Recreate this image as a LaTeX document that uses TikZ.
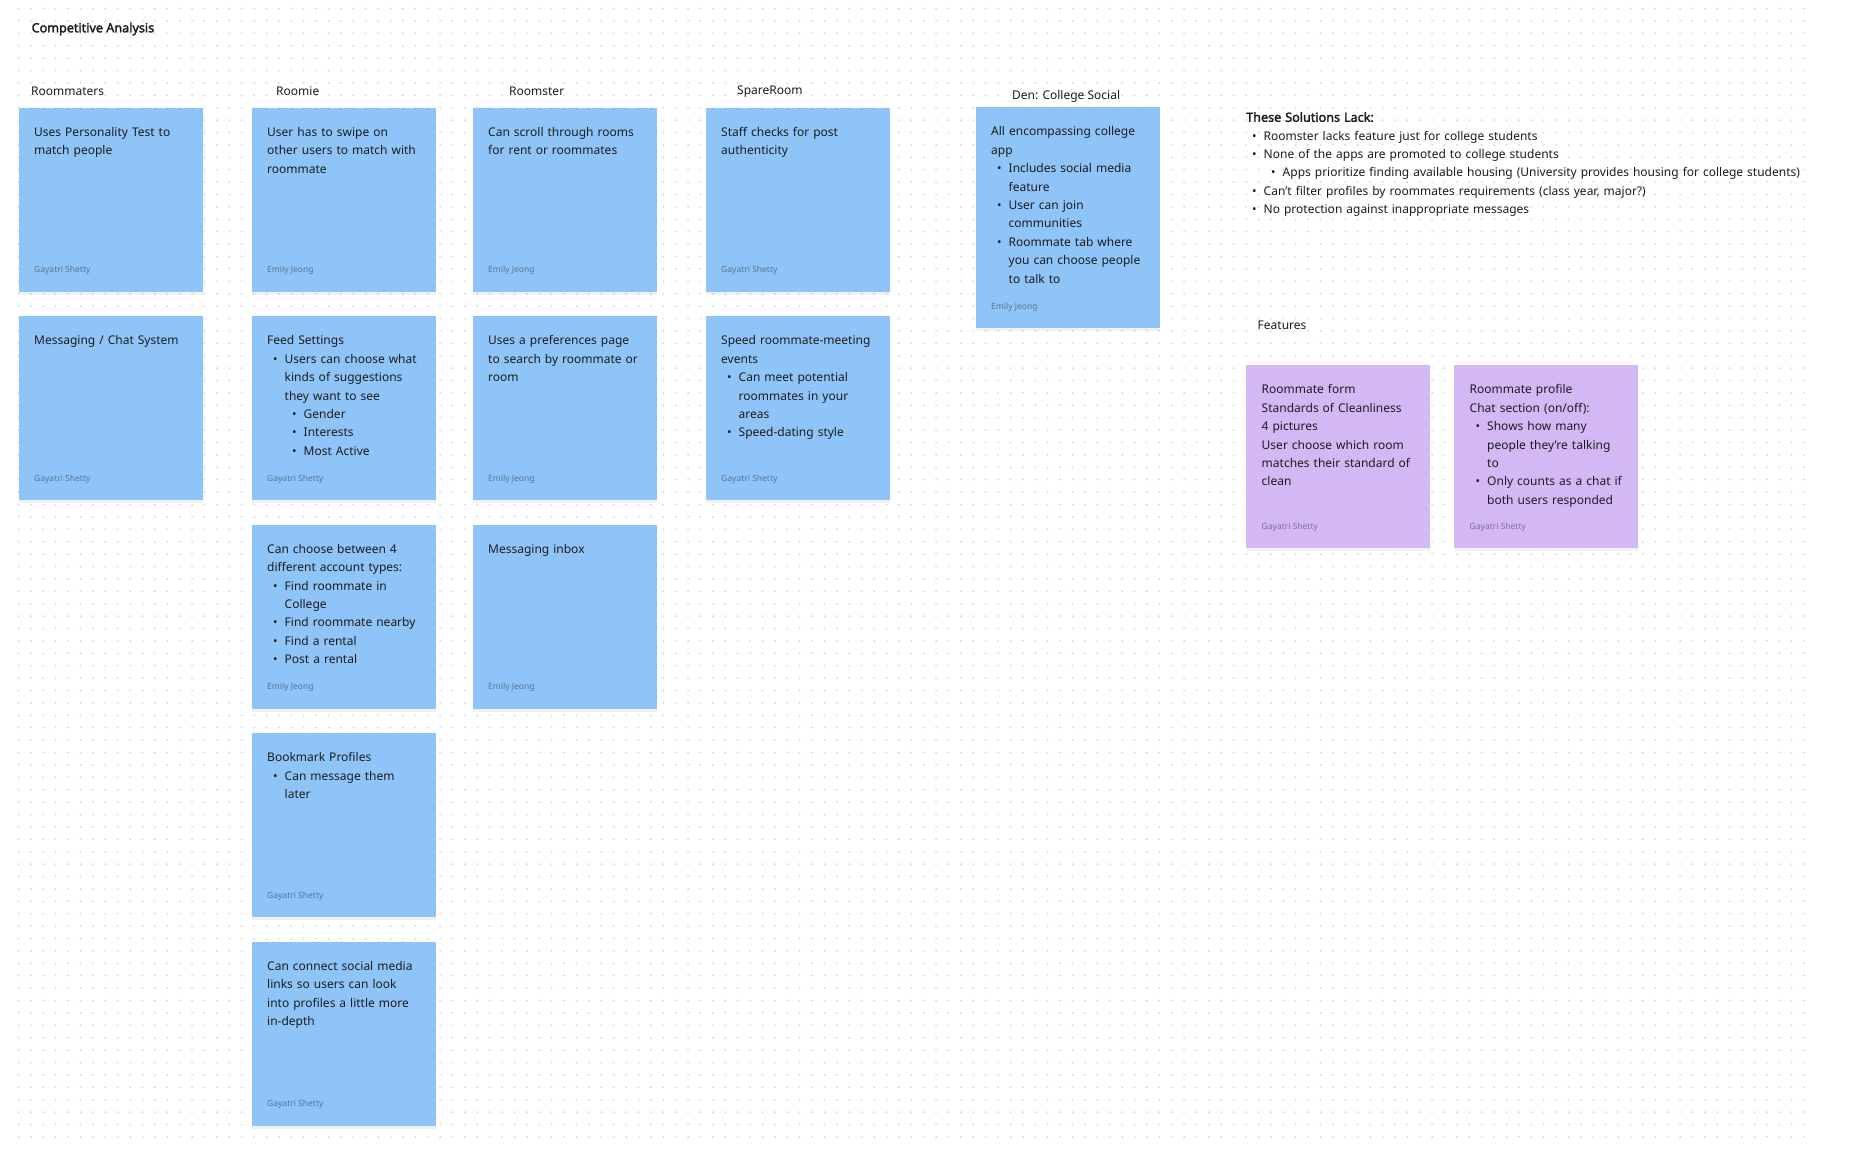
\documentclass[tikz,border=0pt]{standalone}
\usepackage{fontspec}
\setmainfont{Noto Sans}[AutoFakeBold=2.2]
\usepackage{xcolor}
\usetikzlibrary{positioning,shadows}
\setlength\parindent{0pt}
\definecolor{noteblue}{RGB}{143,196,248}
\definecolor{notepurple}{RGB}{212,184,246}
\definecolor{ink}{RGB}{28,28,28}
\definecolor{griddot}{RGB}{214,214,214}
% bullet line, optional arg = left indent
\newcommand\bitem[2][17.5pt]{\par{\leftskip=#1\relax\noindent\llap{\textbullet\hspace{7pt}}#2\par}}

\begin{document}
\begin{tikzpicture}[x=1pt,y=-1pt,
  note/.style={anchor=north west, inner sep=0pt, minimum width=184pt, minimum height=184pt,
    fill=noteblue, drop shadow={shadow xshift=0pt, shadow yshift=-3pt, opacity=.1}},
  notetxt/.style={inner sep=0pt, text width=172pt, align=left, text=ink,
    font=\fontsize{12}{18.4}\selectfont},
  author/.style={inner sep=0pt, text=black, text opacity=.4, font=\fontsize{8.5}{10}\selectfont},
  header/.style={anchor=west, inner sep=0pt, text=ink, font=\fontsize{12}{14}\selectfont}]
  \useasboundingbox[fill=white] (0,0) rectangle (1852,1168);
  % dotted canvas, 12.4px pitch
  \def\gp{12.4}
  \foreach \gy in {0,...,91}
    \draw[griddot, line width=2pt, line cap=round, dash pattern=on 0pt off \gp pt]
      (18.5,{8.5+\gp*\gy}) -- (1808,{8.5+\gp*\gy});

  % headings
  \node[header, font=\fontsize{12.6}{14}\selectfont\bfseries] (title) at (31.5,29) {Competitive Analysis};
  \node[header] (hdrRmt) at (31,91) {Roommaters};
  \node[header] (hdrRmi) at (276,91) {Roomie};
  \node[header] (hdrRms) at (509,91) {Roomster};
  \node[header] (hdrSpr) at (737,91.5) {SpareRoom};
  \node[header] (hdrDen) at (1012,96.5) {Den: College Social};
  \node[header] (hdrFeat) at (1257.5,325) {Features};

  % Roommaters
  \node[note] (rmt1) at (18.5,107.5) {};
  \node[notetxt, below right=19.5pt and 15.5pt of rmt1.north west] {Uses Personality Test to\\match people};
  \node[author, above right=17pt and 15.5pt of rmt1.south west] {Gayatri Shetty};
  \node[note] (rmt2) at (18.5,316) {};
  \node[notetxt, below right=19.5pt and 15.5pt of rmt2.north west] {Messaging / Chat System};
  \node[author, above right=17pt and 15.5pt of rmt2.south west] {Gayatri Shetty};

  % Roomie
  \node[note] (rmi1) at (251.5,107.5) {};
  \node[notetxt, below right=19.5pt and 15.5pt of rmi1.north west] {User has to swipe on\\other users to match with\\roommate};
  \node[author, above right=17pt and 15.5pt of rmi1.south west] {Emily Jeong};
  \node[note] (rmi2) at (251.5,316) {};
  \node[notetxt, below right=19.5pt and 15.5pt of rmi2.north west] {Feed Settings
    \bitem{Users can choose what\newline kinds of suggestions\newline they want to see}
    \bitem[36.5pt]{Gender}\bitem[36.5pt]{Interests}\bitem[36.5pt]{Most Active}};
  \node[author, above right=17pt and 15.5pt of rmi2.south west] {Gayatri Shetty};
  \node[note] (rmi3) at (251.5,524.5) {};
  \node[notetxt, below right=19.5pt and 15.5pt of rmi3.north west] {Can choose between 4\\different account types:
    \bitem{Find roommate in\newline College}\bitem{Find roommate nearby}
    \bitem{Find a rental}\bitem{Post a rental}};
  \node[author, above right=17pt and 15.5pt of rmi3.south west] {Emily Jeong};
  \node[note] (rmi4) at (251.5,733) {};
  \node[notetxt, below right=19.5pt and 15.5pt of rmi4.north west] {Bookmark Profiles
    \bitem{Can message them\newline later}};
  \node[author, above right=17pt and 15.5pt of rmi4.south west] {Gayatri Shetty};
  \node[note] (rmi5) at (251.5,941.5) {};
  \node[notetxt, below right=19.5pt and 15.5pt of rmi5.north west] {Can connect social media\\links so users can look\\into profiles a little more\\in-depth};
  \node[author, above right=17pt and 15.5pt of rmi5.south west] {Gayatri Shetty};

  % Roomster
  \node[note] (rms1) at (472.5,107.5) {};
  \node[notetxt, below right=19.5pt and 15.5pt of rms1.north west] {Can scroll through rooms\\for rent or roommates};
  \node[author, above right=17pt and 15.5pt of rms1.south west] {Emily Jeong};
  \node[note] (rms2) at (472.5,316) {};
  \node[notetxt, below right=19.5pt and 15.5pt of rms2.north west] {Uses a preferences page\\to search by roommate or\\room};
  \node[author, above right=17pt and 15.5pt of rms2.south west] {Emily Jeong};
  \node[note] (rms3) at (472.5,524.5) {};
  \node[notetxt, below right=19.5pt and 15.5pt of rms3.north west] {Messaging inbox};
  \node[author, above right=17pt and 15.5pt of rms3.south west] {Emily Jeong};

  % SpareRoom
  \node[note] (spr1) at (705.5,107.5) {};
  \node[notetxt, below right=19.5pt and 15.5pt of spr1.north west] {Staff checks for post\\authenticity};
  \node[author, above right=17pt and 15.5pt of spr1.south west] {Gayatri Shetty};
  \node[note] (spr2) at (705.5,316) {};
  \node[notetxt, below right=19.5pt and 15.5pt of spr2.north west] {Speed roommate-meeting\\events
    \bitem{Can meet potential\newline roommates in your\newline areas}\bitem{Speed-dating style}};
  \node[author, above right=17pt and 15.5pt of spr2.south west] {Gayatri Shetty};

  % Den: College Social
  \node[note, minimum height=221pt] (den1) at (975.5,107) {};
  \node[notetxt, below right=19.5pt and 15.5pt of den1.north west] {All encompassing college\\app
    \bitem{Includes social media\newline feature}\bitem{User can join\newline communities}
    \bitem{Roommate tab where\newline you can choose people\newline to talk to}};
  \node[author, above right=17pt and 15.5pt of den1.south west] {Emily Jeong};

  % what is missing
  \node[notetxt, anchor=north west, text width=600pt] (lack) at (1246,112) {{\fontsize{12.6}{18.4}\selectfont\textbf{These Solutions Lack:}}
    \bitem{Roomster lacks feature just for college students}
    \bitem{None of the apps are promoted to college students}
    \bitem[36.5pt]{Apps prioritize finding available housing (University provides housing for college students)}
    \bitem{Can't filter profiles by roommates requirements (class year, major?)}
    \bitem{No protection against inappropriate messages}};

  % Features
  \node[note, fill=notepurple, minimum height=183pt] (feat1) at (1246,365) {};
  \node[notetxt, below right=19.5pt and 15.5pt of feat1.north west] {Roommate form\\Standards of Cleanliness\\4 pictures\\User choose which room\\matches their standard of\\clean};
  \node[author, above right=17pt and 15.5pt of feat1.south west] {Gayatri Shetty};
  \node[note, fill=notepurple, minimum height=183pt] (feat2) at (1454,365) {};
  \node[notetxt, below right=19.5pt and 15.5pt of feat2.north west] {Roommate profile\\Chat section (on/off):
    \bitem{Shows how many\newline people they’re talking\newline to}
    \bitem{Only counts as a chat if\newline both users responded}};
  \node[author, above right=17pt and 15.5pt of feat2.south west] {Gayatri Shetty};
\end{tikzpicture}
\end{document}
